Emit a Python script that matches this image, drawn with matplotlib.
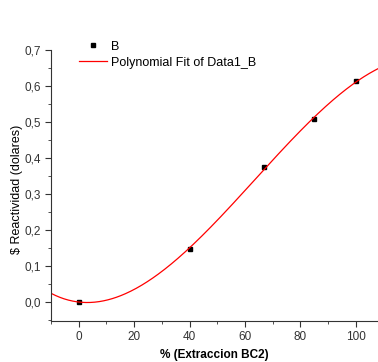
import numpy as np
import matplotlib.pyplot as plt
from matplotlib.ticker import MultipleLocator, FuncFormatter

plt.rcParams['font.family'] = ['Liberation Sans', 'DejaVu Sans']

# datos medidos
extraccion = [0, 40, 67, 85, 100]
reactividad = [0.0, 0.148, 0.375, 0.507, 0.613]

# ajuste polinomial (grado 3) de los datos
coef = np.polyfit(extraccion, reactividad, 3)
xf = np.linspace(-10, 108, 300)
yf = np.polyval(coef, xf)

fig = plt.figure(figsize=(3.78, 3.62), dpi=100)
ax = fig.add_axes([51/378, 41/362, 327/378, 280/362])

ax.plot(extraccion, reactividad, 's', color='black', ms=3.5, label='B')
ax.plot(xf, yf, color='red', lw=0.9, label='Polynomial Fit of Data1_B')

ax.set_xlim(-10, 108)
ax.set_ylim(-0.053, 0.725)
ax.spines['top'].set_visible(False)
ax.spines['right'].set_visible(False)
ax.spines['left'].set_bounds(-0.053, 0.7)
ax.spines['left'].set_color('#333333')
ax.spines['bottom'].set_color('#333333')

ax.xaxis.set_major_locator(MultipleLocator(20))
ax.xaxis.set_minor_locator(MultipleLocator(10))
ax.yaxis.set_major_locator(MultipleLocator(0.1))
ax.yaxis.set_minor_locator(MultipleLocator(0.05))
ax.set_yticks(np.arange(0, 0.71, 0.1))
ax.yaxis.set_major_formatter(FuncFormatter(lambda v, p: f'{v:.1f}'.replace('.', ',')))
ax.tick_params(which='major', length=4, labelsize=8.5, colors='#333333')
ax.tick_params(which='minor', length=2.5, colors='#333333')

ax.set_xlabel('% (Extraccion BC2)', fontsize=8.5, fontweight='bold', labelpad=4)
ax.set_ylabel(r'\$ Reactividad (dolares)', fontsize=9)
ax.yaxis.set_label_coords(-0.086, 0.47)

ax.legend(loc='upper left', bbox_to_anchor=(0.052, 1.041), frameon=False, fontsize=9,
          handlelength=2.2, handletextpad=0.35, labelspacing=0.3, borderpad=0.4)

fig.savefig('out.png')
